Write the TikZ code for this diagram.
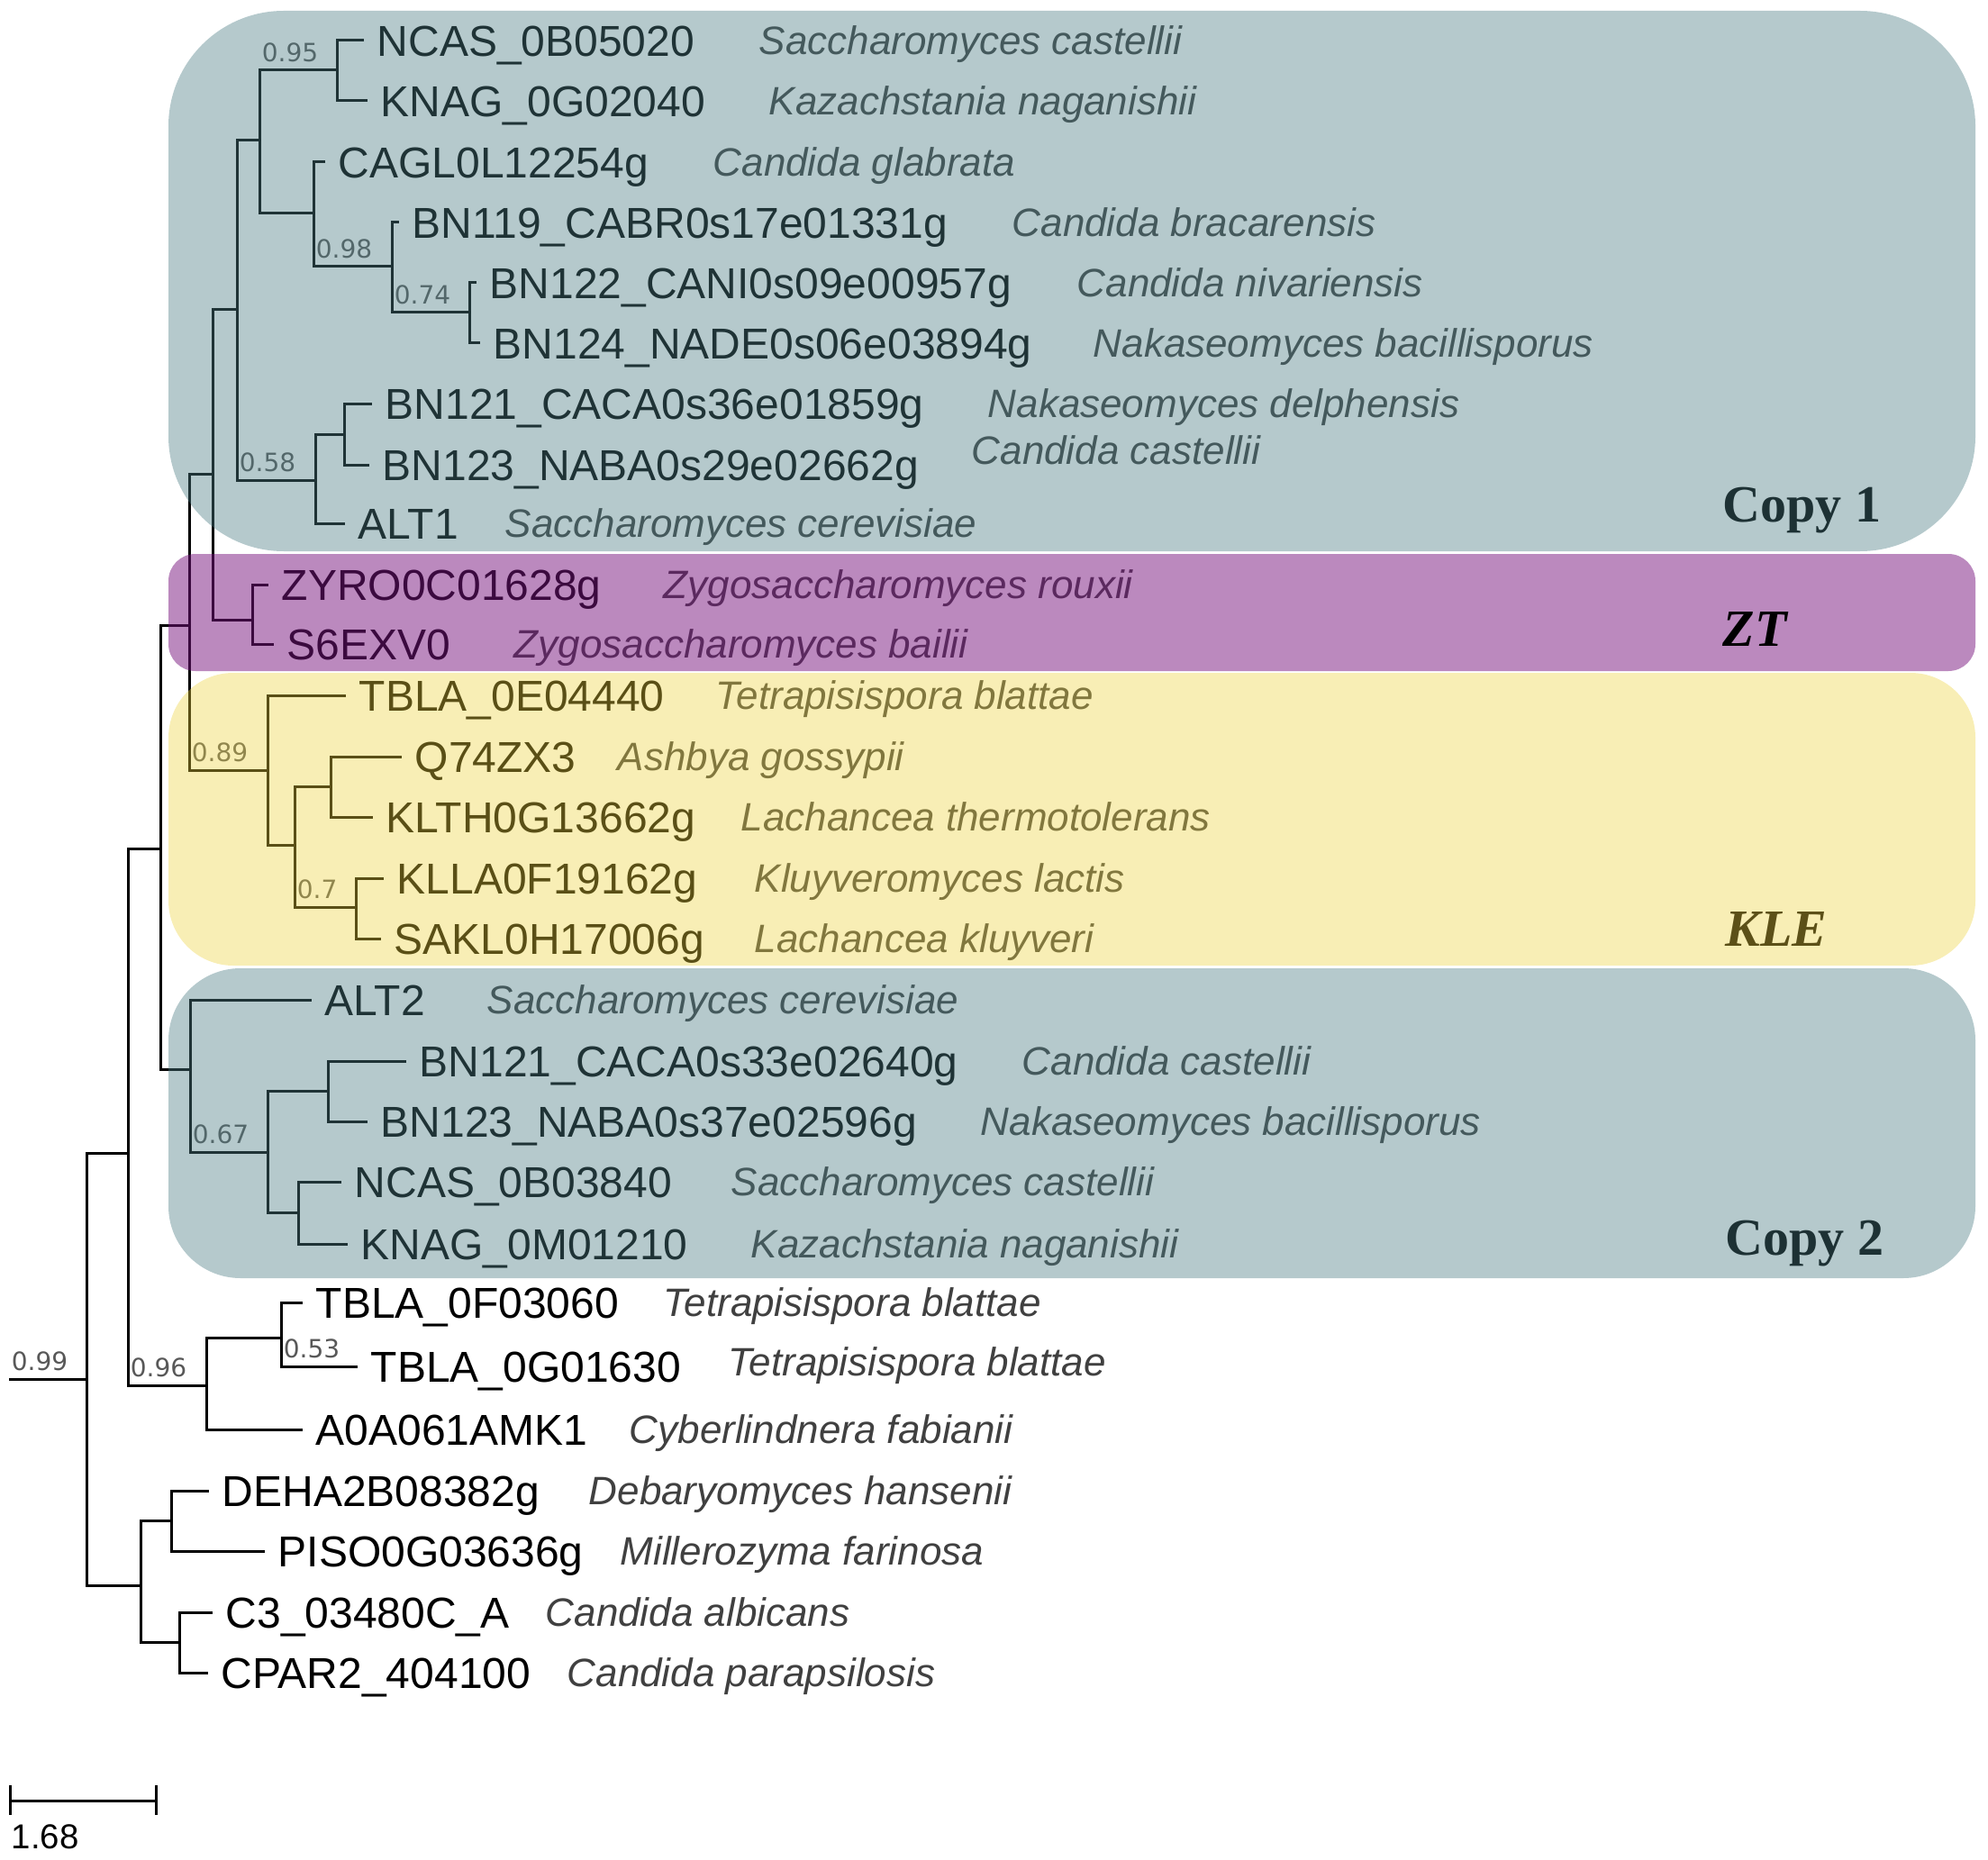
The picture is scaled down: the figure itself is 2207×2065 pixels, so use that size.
\documentclass[tikz,border=0pt]{standalone}
\usepackage{fontspec}
\setmainfont{Liberation Sans}
\newfontfamily\bootfont{DejaVu Sans}
\newfontfamily\cladefont{Liberation Serif}
\usetikzlibrary{positioning}

\definecolor{copytint}{RGB}{76,125,132}
\definecolor{zttint}{RGB}{119,20,126}
\definecolor{kletint}{RGB}{237,210,60}
\definecolor{speciesgray}{RGB}{64,64,64}
\definecolor{bootgray}{RGB}{88,88,88}
\definecolor{copytext}{RGB}{29,49,52}
\definecolor{kletext}{RGB}{92,80,24}

\begin{document}
\begin{tikzpicture}[
    x=0.25pt, y=-0.25pt,
    branch/.style  = {line width=0.75pt, line join=miter},
    gene/.style    = {anchor=west, inner sep=0pt, font=\fontsize{12}{14}\selectfont,
                      text height=8.6pt, text depth=0pt},
    species/.style = {anchor=west, inner sep=0pt, font=\fontsize{11}{13}\selectfont\itshape,
                      text=speciesgray, text height=7.9pt, text depth=0pt},
    boot/.style    = {anchor=south west, inner sep=0pt, xshift=0.5pt, yshift=2.2pt,
                      font=\bootfont\fontsize{7}{8}\selectfont, text=bootgray},
    copybox/.style = {fill=copytint, fill opacity=0.41},
    ztbox/.style   = {fill=zttint, fill opacity=0.5, rounded corners=7.5pt},
    klebox/.style  = {fill=kletint, fill opacity=0.38, rounded corners=18pt},
    cladelabel/.style = {anchor=base west, inner sep=0pt,
                         font=\cladefont\bfseries\fontsize{14.5}{16}\selectfont},
]
    \useasboundingbox (0,0) rectangle (2207,2065);

    %Inner nodes
    \coordinate (stem)      at (10,1531);
    \coordinate (root)      at (96,1531);
    \coordinate (nd_c)      at (142,1280);
    \coordinate (nd_b)      at (178,942);
    \coordinate (nd_a)      at (210,694);
    \coordinate (nd_c1zt)   at (236,526);
    \coordinate (nd_c1)     at (263,344);
    \coordinate (nd_top)    at (288,156);
    \coordinate (nd_nk)     at (374,78);
    \coordinate (nd_cagl)   at (348,237);
    \coordinate (nd_bn119)  at (435,296);
    \coordinate (nd_bn122)  at (521,347);
    \coordinate (nd_alt1)   at (350,533);
    \coordinate (nd_bn121)  at (382,482);
    \coordinate (nd_zt)     at (280,688);
    \coordinate (nd_kle)    at (297,855);
    \coordinate (nd_kl)     at (327,938);
    \coordinate (nd_q74)    at (367,873);
    \coordinate (nd_klla)   at (395,1007);
    \coordinate (nd_c2)     at (211,1187);
    \coordinate (nd_c2b)    at (297,1279);
    \coordinate (nd_bn121b) at (364,1211);
    \coordinate (nd_ncas2)  at (331,1346);
    \coordinate (nd_tb)     at (229,1538);
    \coordinate (nd_tbla)   at (312,1485);
    \coordinate (nd_deb)    at (156,1760);
    \coordinate (nd_deha)   at (190,1688);
    \coordinate (nd_c3)     at (199,1823);

    %Leaves
    \coordinate (ncas1)  at (404,45);
    \coordinate (knag1)  at (408,112);
    \coordinate (cagl)   at (361,180);
    \coordinate (bn119)  at (443,247);
    \coordinate (bn122)  at (529,314);
    \coordinate (bn124)  at (533,381);
    \coordinate (bn121a) at (413,448);
    \coordinate (bn123a) at (410,516);
    \coordinate (alt1)   at (383,581);
    \coordinate (zyro)   at (298,649);
    \coordinate (s6exv)  at (304,715);
    \coordinate (tbla0e) at (384,772);
    \coordinate (q74)    at (446,840);
    \coordinate (klth)   at (414,907);
    \coordinate (klla)   at (426,975);
    \coordinate (sakl)   at (423,1042);
    \coordinate (alt2)   at (346,1110);
    \coordinate (bn121b) at (451,1178);
    \coordinate (bn123b) at (408,1245);
    \coordinate (ncas2)  at (379,1312);
    \coordinate (knag2)  at (386,1381);
    \coordinate (tbla0f) at (336,1446);
    \coordinate (tbla0g) at (397,1517);
    \coordinate (a0a)    at (336,1587);
    \coordinate (deha)   at (232,1655);
    \coordinate (piso)   at (294,1722);
    \coordinate (c3)     at (236,1790);
    \coordinate (cpar)   at (231,1857);

    %Branches
    \draw[branch] (stem) -- (root);
    \draw[branch] (root) |- (nd_c);      \draw[branch] (root) |- (nd_deb);
    \draw[branch] (nd_c) |- (nd_b);      \draw[branch] (nd_c) |- (nd_tb);
    \draw[branch] (nd_b) |- (nd_a);      \draw[branch] (nd_b) |- (nd_c2);
    \draw[branch] (nd_a) |- (nd_c1zt);   \draw[branch] (nd_a) |- (nd_kle);
    \draw[branch] (nd_c1zt) |- (nd_c1);  \draw[branch] (nd_c1zt) |- (nd_zt);
    \draw[branch] (nd_c1) |- (nd_top);   \draw[branch] (nd_c1) |- (nd_alt1);
    \draw[branch] (nd_top) |- (nd_nk);   \draw[branch] (nd_top) |- (nd_cagl);
    \draw[branch] (nd_nk) |- (ncas1);    \draw[branch] (nd_nk) |- (knag1);
    \draw[branch] (nd_cagl) |- (cagl);   \draw[branch] (nd_cagl) |- (nd_bn119);
    \draw[branch] (nd_bn119) |- (bn119); \draw[branch] (nd_bn119) |- (nd_bn122);
    \draw[branch] (nd_bn122) |- (bn122); \draw[branch] (nd_bn122) |- (bn124);
    \draw[branch] (nd_alt1) |- (nd_bn121); \draw[branch] (nd_alt1) |- (alt1);
    \draw[branch] (nd_bn121) |- (bn121a);  \draw[branch] (nd_bn121) |- (bn123a);
    \draw[branch] (nd_zt) |- (zyro);     \draw[branch] (nd_zt) |- (s6exv);
    \draw[branch] (nd_kle) |- (tbla0e);  \draw[branch] (nd_kle) |- (nd_kl);
    \draw[branch] (nd_kl) |- (nd_q74);   \draw[branch] (nd_kl) |- (nd_klla);
    \draw[branch] (nd_q74) |- (q74);     \draw[branch] (nd_q74) |- (klth);
    \draw[branch] (nd_klla) |- (klla);   \draw[branch] (nd_klla) |- (sakl);
    \draw[branch] (nd_c2) |- (alt2);     \draw[branch] (nd_c2) |- (nd_c2b);
    \draw[branch] (nd_c2b) |- (nd_bn121b); \draw[branch] (nd_c2b) |- (nd_ncas2);
    \draw[branch] (nd_bn121b) |- (bn121b); \draw[branch] (nd_bn121b) |- (bn123b);
    \draw[branch] (nd_ncas2) |- (ncas2); \draw[branch] (nd_ncas2) |- (knag2);
    \draw[branch] (nd_tb) |- (nd_tbla);  \draw[branch] (nd_tb) |- (a0a);
    \draw[branch] (nd_tbla) |- (tbla0f); \draw[branch] (nd_tbla) |- (tbla0g);
    \draw[branch] (nd_deb) |- (nd_deha); \draw[branch] (nd_deb) |- (nd_c3);
    \draw[branch] (nd_deha) |- (deha);   \draw[branch] (nd_deha) |- (piso);
    \draw[branch] (nd_c3) |- (c3);       \draw[branch] (nd_c3) |- (cpar);

    %Support values
    \path (nd_top |- nd_nk)      node[boot] {0.95};
    \path (nd_cagl |- nd_bn119)  node[boot] {0.98};
    \path (nd_bn119 |- nd_bn122) node[boot] {0.74};
    \path (nd_c1 |- nd_alt1)     node[boot] {0.58};
    \path (nd_a |- nd_kle)       node[boot] {0.89};
    \path (nd_kl |- nd_klla)     node[boot] {0.7};
    \path (nd_c2 |- nd_c2b)      node[boot] {0.67};
    \path (nd_tbla |- tbla0g)    node[boot] {0.53};
    \path (nd_c |- nd_tb)        node[boot] {0.96};
    \path (stem)                 node[boot] {0.99};

    %Gene names
    \node[gene, right=3.5pt of ncas1]  (ncas1g)  {NCAS\_0B05020};
    \node[gene, right=3.5pt of knag1]  (knag1g)  {KNAG\_0G02040};
    \node[gene, right=3.5pt of cagl]   (caglg)   {CAGL0L12254g};
    \node[gene, right=3.5pt of bn119]  (bn119g)  {BN119\_CABR0s17e01331g};
    \node[gene, right=3.5pt of bn122]  (bn122g)  {BN122\_CANI0s09e00957g};
    \node[gene, right=3.5pt of bn124]  (bn124g)  {BN124\_NADE0s06e03894g};
    \node[gene, right=3.5pt of bn121a] (bn121ag) {BN121\_CACA0s36e01859g};
    \node[gene, right=3.5pt of bn123a] (bn123ag) {BN123\_NABA0s29e02662g};
    \node[gene, right=3.5pt of alt1]   (alt1g)   {ALT1};
    \node[gene, right=3.5pt of zyro]   (zyrog)   {ZYRO0C01628g};
    \node[gene, right=3.5pt of s6exv]  (s6exvg)  {S6EXV0};
    \node[gene, right=3.5pt of tbla0e] (tbla0eg) {TBLA\_0E04440};
    \node[gene, right=3.5pt of q74]    (q74g)    {Q74ZX3};
    \node[gene, right=3.5pt of klth]   (klthg)   {KLTH0G13662g};
    \node[gene, right=3.5pt of klla]   (kllag)   {KLLA0F19162g};
    \node[gene, right=3.5pt of sakl]   (saklg)   {SAKL0H17006g};
    \node[gene, right=3.5pt of alt2]   (alt2g)   {ALT2};
    \node[gene, right=3.5pt of bn121b] (bn121bg) {BN121\_CACA0s33e02640g};
    \node[gene, right=3.5pt of bn123b] (bn123bg) {BN123\_NABA0s37e02596g};
    \node[gene, right=3.5pt of ncas2]  (ncas2g)  {NCAS\_0B03840};
    \node[gene, right=3.5pt of knag2]  (knag2g)  {KNAG\_0M01210};
    \node[gene, right=3.5pt of tbla0f] (tbla0fg) {TBLA\_0F03060};
    \node[gene, right=3.5pt of tbla0g] (tbla0gg) {TBLA\_0G01630};
    \node[gene, right=3.5pt of a0a]    (a0ag)    {A0A061AMK1};
    \node[gene, right=3.5pt of deha]   (dehag)   {DEHA2B08382g};
    \node[gene, right=3.5pt of piso]   (pisog)   {PISO0G03636g};
    \node[gene, right=3.5pt of c3]     (c3g)     {C3\_03480C\_A};
    \node[gene, right=3.5pt of cpar]   (cparg)   {CPAR2\_404100};

    %Species
    \node[species] (ncas1s)  at (842,45)   {Saccharomyces castellii};
    \node[species] (knag1s)  at (853,112)  {Kazachstania naganishii};
    \node[species] (cagls)   at (791,180)  {Candida glabrata};
    \node[species] (bn119s)  at (1123,247) {Candida bracarensis};
    \node[species] (bn122s)  at (1195,314) {Candida nivariensis};
    \node[species] (bn124s)  at (1213,381) {Nakaseomyces bacillisporus};
    \node[species] (bn121as) at (1096,448) {Nakaseomyces delphensis};
    \node[species] (bn123as) at (1078,500) {Candida castellii};
    \node[species] (alt1s)   at (560,581)  {Saccharomyces cerevisiae};
    \node[species] (zyros)   at (736,649)  {Zygosaccharomyces rouxii};
    \node[species] (s6exvs)  at (570,715)  {Zygosaccharomyces bailii};
    \node[species] (tbla0es) at (794,772)  {Tetrapisispora blattae};
    \node[species] (q74s)    at (685,840)  {Ashbya gossypii};
    \node[species] (klths)   at (822,907)  {Lachancea thermotolerans};
    \node[species] (kllas)   at (837,975)  {Kluyveromyces lactis};
    \node[species] (sakls)   at (837,1042) {Lachancea kluyveri};
    \node[species] (alt2s)   at (540,1110) {Saccharomyces cerevisiae};
    \node[species] (bn121bs) at (1134,1178) {Candida castellii};
    \node[species] (bn123bs) at (1088,1245) {Nakaseomyces bacillisporus};
    \node[species] (ncas2s)  at (811,1312) {Saccharomyces castellii};
    \node[species] (knag2s)  at (833,1381) {Kazachstania naganishii};
    \node[species] (tbla0fs) at (736,1446) {Tetrapisispora blattae};
    \node[species] (tbla0gs) at (808,1512) {Tetrapisispora blattae};
    \node[species] (a0as)    at (698,1587) {Cyberlindnera fabianii};
    \node[species] (dehas)   at (653,1655) {Debaryomyces hansenii};
    \node[species] (pisos)   at (688,1722) {Millerozyma farinosa};
    \node[species] (c3s)     at (605,1790) {Candida albicans};
    \node[species] (cpars)   at (629,1857) {Candida parapsilosis};

    %Clade boxes
    \fill[copybox, rounded corners=32pt] (187,12) rectangle (2193,612);
    \fill[ztbox]  (187,615) rectangle (2193,745);
    \fill[klebox] (187,747) rectangle (2193,1072);
    \fill[copybox, rounded corners=20pt] (187,1075) rectangle (2193,1419);

    \node[cladelabel, text=copytext] (copy1) at (1912,579)  {Copy 1};
    \node[cladelabel, text=black]    (zt)    at (1912,717)  {\itshape ZT};
    \node[cladelabel, text=kletext]  (kle)   at (1915,1050) {\itshape KLE};
    \node[cladelabel, text=copytext] (copy2) at (1915,1393) {Copy 2};

    %Scale bar
    \coordinate (sb_l) at (11,1999);
    \coordinate (sb_r) at (173,1999);
    \draw[branch] (sb_l) -- (sb_r);
    \draw[branch] ([yshift=4.2pt]sb_l) -- ([yshift=-4pt]sb_l);
    \draw[branch] ([yshift=4.2pt]sb_r) -- ([yshift=-4pt]sb_r);
    \node[anchor=west, inner sep=0pt, font=\fontsize{9.6}{11}\selectfont,
          text height=6.9pt, text depth=0pt] (sb_t) at (12,2039) {1.68};
\end{tikzpicture}
\end{document}
